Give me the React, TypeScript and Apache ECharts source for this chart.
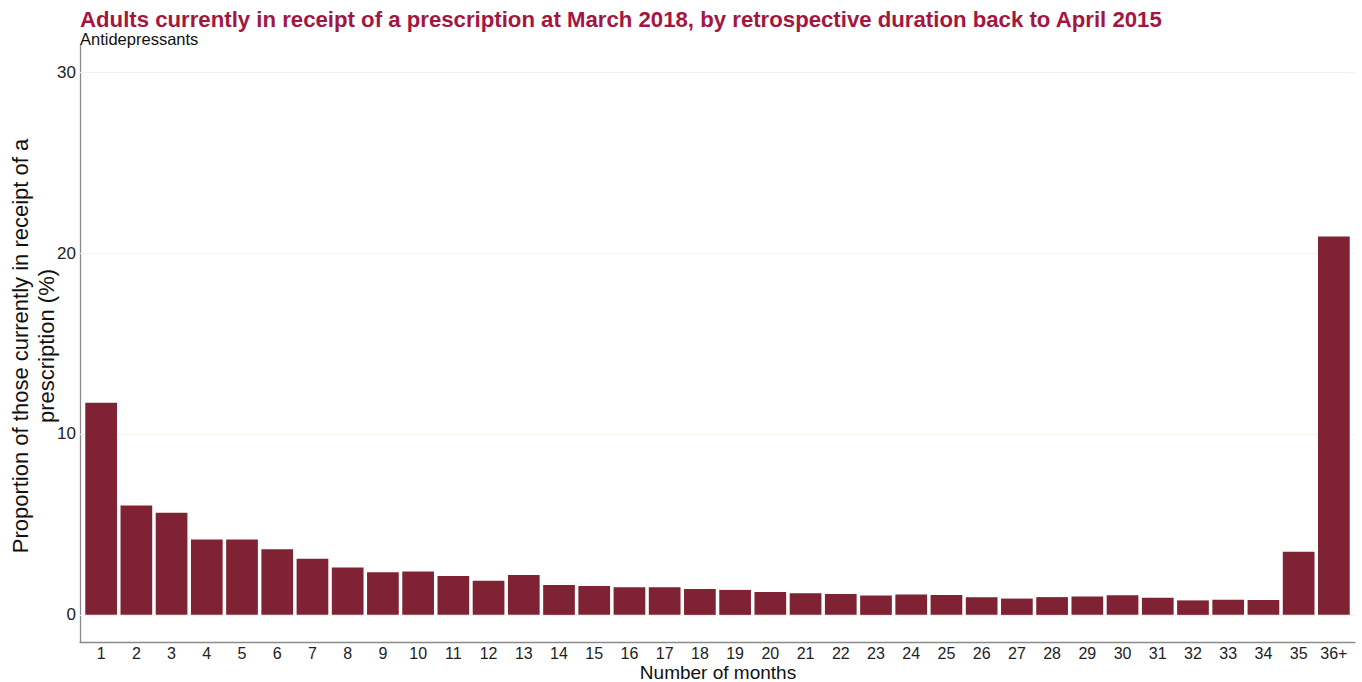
import React, { useEffect, useRef } from "react";
import * as echarts from "echarts";

const titleText =
  "Adults currently in receipt of a prescription at March 2018, by retrospective duration back to April 2015";
const subtitleText = "Antidepressants";
const xAxisTitle = "Number of months";
const yAxisTitle = "Proportion of those currently in receipt of a\nprescription (%)";

const categories = [
  "1", "2", "3", "4", "5", "6", "7", "8", "9", "10",
  "11", "12", "13", "14", "15", "16", "17", "18", "19", "20",
  "21", "22", "23", "24", "25", "26", "27", "28", "29", "30",
  "31", "32", "33", "34", "35", "36+",
];
const values = [
  11.72, 6.05, 5.65, 4.17, 4.17, 3.62, 3.1, 2.62, 2.36, 2.4,
  2.15, 1.88, 2.21, 1.65, 1.6, 1.53, 1.53, 1.43, 1.38, 1.26,
  1.2, 1.16, 1.07, 1.12, 1.1, 0.98, 0.9, 0.98, 1.01, 1.08,
  0.94, 0.8, 0.84, 0.82, 3.49, 20.92,
];
const yTicks = [0, 10, 20, 30];

export default function App() {
  const ref = useRef<HTMLDivElement>(null);
  useEffect(() => {
    if (!ref.current) return;
    const chart = echarts.init(ref.current, null, { renderer: "svg" });
    const font = "Liberation Sans, Arial, sans-serif";
    const data = values.map((v, i) => [i + 1, v]);
    chart.setOption({
      animation: false,
      backgroundColor: "#ffffff",
      title: [
        {
          text: titleText,
          left: 75,
          top: 3,
          textStyle: { color: "#a3173f", fontSize: 22.2, fontWeight: "bold", fontFamily: font },
        },
        {
          text: subtitleText,
          left: 75,
          top: 25,
          textStyle: { color: "#111", fontSize: 16.5, fontWeight: "normal", fontFamily: font },
        },
      ],
      graphic: [
        {
          type: "text",
          x: 33,
          y: 346,
          rotation: Math.PI / 2,
          style: {
            text: yAxisTitle,
            fill: "#111",
            fontSize: 22,
            lineHeight: 26,
            fontFamily: font,
            align: "center",
            verticalAlign: "middle",
          },
        },
        {
          type: "text",
          x: 718,
          y: 672,
          style: {
            text: xAxisTitle,
            fill: "#111",
            fontSize: 19,
            fontFamily: font,
            align: "center",
            verticalAlign: "middle",
          },
        },
      ],
      grid: {
        left: 80,
        right: 7,
        top: 45,
        bottom: 40,
        containLabel: false,
        outerBoundsMode: "none",
      },
      xAxis: {
        type: "value",
        min: 0.4,
        max: 36.6,
        interval: 0.2,
        axisLine: { show: true, onZero: false, lineStyle: { color: "#8a8a8a", width: 1.3 } },
        axisTick: { show: false },
        splitLine: { show: false },
        axisLabel: {
          margin: 3,
          color: "#222",
          fontSize: 16,
          fontFamily: font,
          formatter: (v: number) => {
            const r = Math.round(v);
            if (Math.abs(v - r) < 1e-6 && r >= 1 && r <= categories.length) return categories[r - 1];
            return "";
          },
        },
      },
      yAxis: {
        type: "value",
        min: -1.5,
        max: 31.5,
        interval: 0.5,
        axisLine: { show: true, onZero: false, lineStyle: { color: "#8a8a8a", width: 1.3 } },
        axisTick: { show: false },
        splitLine: { show: false },
        axisLabel: {
          margin: 4,
          color: "#222",
          fontSize: 17,
          fontFamily: font,
          formatter: (v: number) => {
            const hit = yTicks.find((t) => Math.abs(t - v) < 1e-6);
            return hit === undefined ? "" : String(hit);
          },
        },
      },
      series: [
        {
          type: "bar",
          data,
          barWidth: "90%",
          itemStyle: { color: "#7f2233" },
          z: 2,
          markLine: {
            z: 1,
            silent: true,
            symbol: "none",
            label: { show: false },
            lineStyle: { color: "#f3f3ea", type: "solid", width: 1 },
            data: yTicks.map((t) => ({ yAxis: t })),
          },
        },
      ],
    });
    return () => chart.dispose();
  }, []);
  return (
    <div
      ref={ref}
      style={{ position: "fixed", left: 0, top: 0, width: 1362, height: 682 }}
    />
  );
}
